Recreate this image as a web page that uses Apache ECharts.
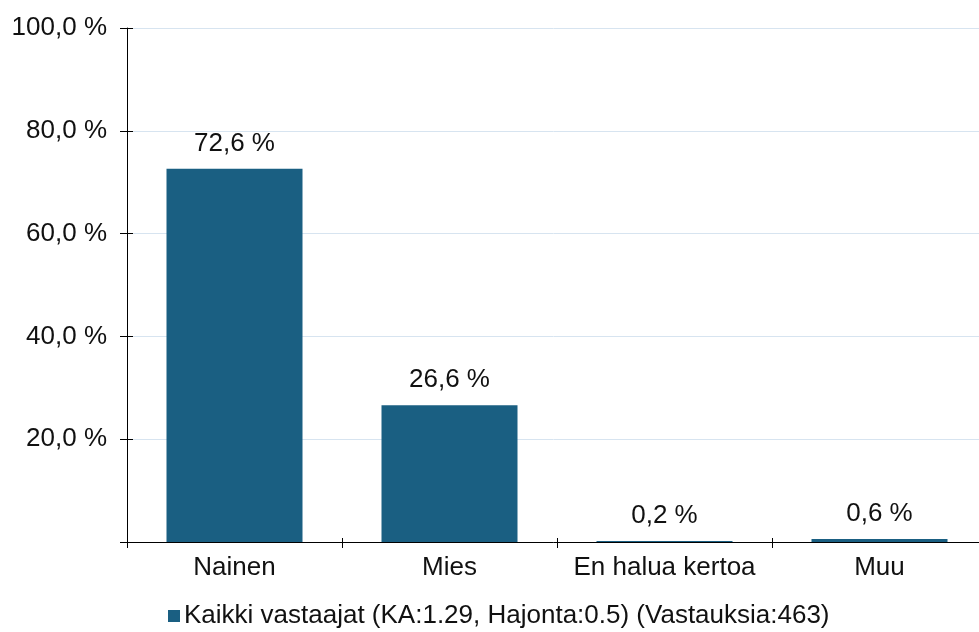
<!DOCTYPE html>
<html>
<head>
<meta charset="utf-8">
<script src="https://cdn.jsdelivr.net/npm/echarts@6/dist/echarts.min.js"></script>
<style>
    html, body { margin: 0; padding: 0; background: #fff; }
    #chart { width: 979px; height: 632px; }
</style>
</head>
<body>
<div id="chart"></div>
<script>
    // 数据
    let categories = ['Nainen', 'Mies', 'En halua kertoa', 'Muu'];
    let values = [72.6, 26.6, 0.2, 0.6];
    let seriesName = 'Kaikki vastaajat (KA:1.29, Hajonta:0.5) (Vastauksia:463)';
    let yTicks = [0, 20, 40, 60, 80, 100];

    let fmt = function (v) {
        return v.toFixed(1).replace('.', ',') + ' %';
    };

    let myChart = echarts.init(document.getElementById('chart'));
    let font = 'Liberation Sans, Arial, sans-serif';

    let option = {
        animation: false,
        textStyle: { fontFamily: font },
        grid: {
            left: 127,
            top: 28,
            right: -8,
            bottom: 90,
            containLabel: false,
            outerBoundsMode: 'none'
        },
        legend: {
            data: [seriesName],
            icon: 'rect',
            itemWidth: 12,
            itemHeight: 12,
            left: 163,
            top: 598,
            textStyle: { fontSize: 26, color: '#111', fontFamily: font, padding: [0, 0, 0, -1] }
        },
        xAxis: [{
            type: 'category',
            data: categories,
            axisLine: { lineStyle: { color: '#000', width: 1 } },
            axisTick: { show: true, length: 6, lineStyle: { color: '#000' } },
            axisLabel: { fontSize: 26, color: '#111', margin: 13, fontFamily: font, interval: 0, hideOverlap: false }
        }, {
            type: 'category',
            data: categories,
            position: 'bottom',
            axisLine: { show: false },
            axisTick: { show: true, inside: true, length: 4, lineStyle: { color: '#000' } },
            axisLabel: { show: false }
        }],
        yAxis: [{
            type: 'value',
            min: yTicks[0],
            max: yTicks[yTicks.length - 1],
            interval: 20,
            axisLine: { show: true, lineStyle: { color: '#000', width: 1 } },
            axisTick: { show: true, length: 7, lineStyle: { color: '#000' } },
            axisLabel: {
                fontSize: 26,
                color: '#111',
                margin: 20,
                fontFamily: font,
                formatter: function (v) { return v === 0 ? '' : fmt(v); }
            },
            splitLine: { show: true, lineStyle: { color: '#d7e4f0', width: 1 } }
        }, {
            type: 'value',
            position: 'left',
            min: yTicks[0],
            max: yTicks[yTicks.length - 1],
            interval: 20,
            axisLine: { show: false },
            axisTick: { show: true, inside: true, length: 6, lineStyle: { color: '#000' } },
            axisLabel: { show: false },
            splitLine: { show: false }
        }],
        series: [{
            name: seriesName,
            type: 'bar',
            data: values,
            barWidth: 136,
            itemStyle: { color: '#1a5f82' },
            label: {
                show: true,
                position: 'top',
                distance: 12,
                fontSize: 26,
                color: '#111',
                fontFamily: font,
                formatter: function (p) { return fmt(p.value); }
            }
        }]
    };

    myChart.setOption(option);
</script>
</body>
</html>
